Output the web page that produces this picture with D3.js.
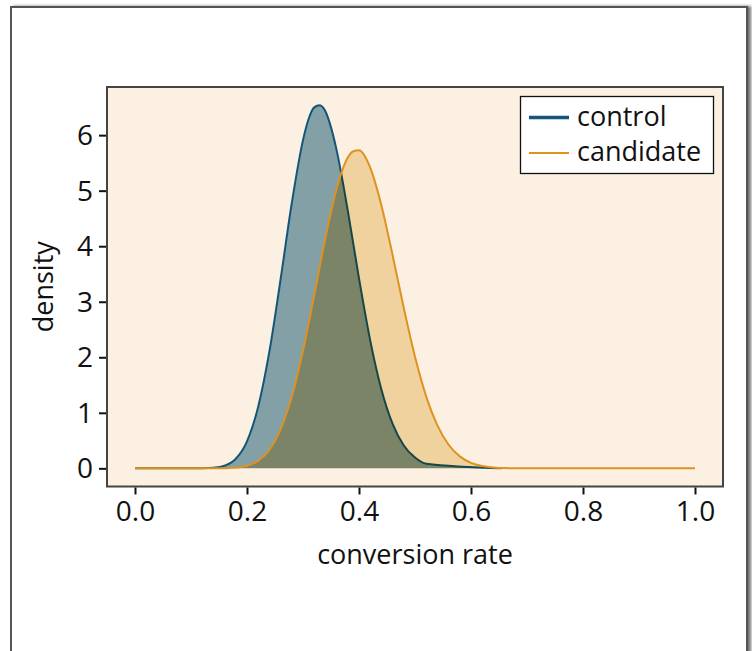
<!DOCTYPE html>
<html>
<head>
<meta charset="utf-8">
<script src="https://cdn.jsdelivr.net/npm/d3@7"></script>
<style>
  html, body { margin: 0; padding: 0; background: #ffffff; }
  svg { display: block; }
  text { font-family: "Open Sans", "Noto Sans", sans-serif; fill: #111; }
</style>
</head>
<body>
<div id="chart"></div>
<script>
// ---- data ----
const seriesNames = ["control", "candidate"];

const controlX = [0.00, 0.12, 0.14, 0.16, 0.18, 0.20, 0.22, 0.24, 0.26, 0.28, 0.30, 0.31, 0.32, 0.33, 0.34, 0.35, 0.36, 0.38, 0.40, 0.42, 0.44, 0.46, 0.48, 0.50, 0.52, 0.655];
const controlY = [0.00, 0.001, 0.009, 0.047, 0.172, 0.487, 1.110, 2.105, 3.405, 4.778, 5.91, 6.29, 6.50, 6.54, 6.43, 6.14, 5.73, 4.64, 3.42, 2.305, 1.419, 0.800, 0.412, 0.194, 0.083, 0.00];

const candidateX = [0.00, 0.14, 0.16, 0.18, 0.20, 0.22, 0.24, 0.26, 0.28, 0.30, 0.32, 0.34, 0.36, 0.38, 0.39, 0.40, 0.41, 0.42, 0.44, 0.46, 0.48, 0.50, 0.52, 0.54, 0.56, 0.58, 0.60, 0.62, 0.64, 0.66, 0.70, 1.00];
const candidateY = [0.00, 0.000, 0.003, 0.013, 0.046, 0.135, 0.331, 0.700, 1.292, 2.119, 3.114, 4.145, 5.033, 5.596, 5.71, 5.726, 5.63, 5.414, 4.735, 3.838, 2.886, 2.010, 1.296, 0.773, 0.425, 0.215, 0.099, 0.042, 0.016, 0.005, 0.000, 0.000];

const xTicks = [0.0, 0.2, 0.4, 0.6, 0.8, 1.0];
const yTicks = [0, 1, 2, 3, 4, 5, 6];
const xLabel = "conversion rate";
const yLabel = "density";

// ---- layout ----
const W = 752, H = 651;
const plot = { left: 107, top: 87, right: 723, bottom: 486.5 };

const svg = d3.select("#chart").append("svg")
  .attr("width", W).attr("height", H);

const defs = svg.append("defs");
const shadow = defs.append("filter").attr("id", "shadow")
  .attr("x", "-5%").attr("y", "-5%").attr("width", "115%").attr("height", "115%");
shadow.append("feDropShadow")
  .attr("dx", 3).attr("dy", 0).attr("stdDeviation", 1.8)
  .attr("flood-color", "#000").attr("flood-opacity", 0.55);

// outer frame
svg.append("rect")
  .attr("x", 11).attr("y", 7).attr("width", 736).attr("height", 700)
  .attr("fill", "#ffffff").attr("stroke", "#555555").attr("stroke-width", 2)
  .attr("filter", "url(#shadow)");

const controlData = controlX.map((x, i) => ({ x, y: controlY[i] }));
const candidateData = candidateX.map((x, i) => ({ x, y: candidateY[i] }));

const xPad = 0.05 * (1 - 0);
const yMax = d3.max(controlY.concat(candidateY));
const x = d3.scaleLinear().domain([0 - xPad, 1 + xPad]).range([plot.left, plot.right]);
const y = d3.scaleLinear().domain([-0.05 * yMax, 1.05 * yMax]).range([plot.bottom, plot.top]);

// plot background
svg.append("rect")
  .attr("x", plot.left).attr("y", plot.top)
  .attr("width", plot.right - plot.left).attr("height", plot.bottom - plot.top)
  .attr("fill", "#fbf0e2");

const g = svg.append("g").style("isolation", "isolate");

const area = d3.area().x(d => x(d.x)).y0(y(0)).y1(d => y(d.y)).curve(d3.curveMonotoneX);
const line = d3.line().x(d => x(d.x)).y(d => y(d.y)).curve(d3.curveMonotoneX);

const colors = { control: "#145677", candidate: "#df921f" };

g.append("path").datum(controlData).attr("d", area)
  .attr("fill", "#83a0a6");
g.append("path").datum(controlData).attr("d", line)
  .attr("fill", "none").attr("stroke", colors.control).attr("stroke-width", 2);

g.append("path").datum(candidateData).attr("d", area)
  .attr("fill", "#f0d29e").style("mix-blend-mode", "multiply");
g.append("path").datum(candidateData).attr("d", line)
  .attr("fill", "none").attr("stroke", colors.candidate).attr("stroke-width", 2);

// plot border
svg.append("rect")
  .attr("x", plot.left).attr("y", plot.top)
  .attr("width", plot.right - plot.left).attr("height", plot.bottom - plot.top)
  .attr("fill", "none").attr("stroke", "#444444").attr("stroke-width", 2);

// axes
const xAxis = d3.axisBottom(x).tickValues(xTicks).tickFormat(d3.format(".1f"))
  .tickSize(7).tickPadding(7);
const yAxis = d3.axisLeft(y).tickValues(yTicks).tickFormat(d3.format("d"))
  .tickSize(7).tickPadding(6);

const gx = svg.append("g").attr("transform", `translate(0,${plot.bottom + 1})`).call(xAxis);
const gy = svg.append("g").attr("transform", `translate(${plot.left - 1},0)`).call(yAxis);
[gx, gy].forEach(a => {
  a.select(".domain").remove();
  a.selectAll(".tick line").attr("stroke", "#111").attr("stroke-width", 2);
  a.selectAll(".tick text").attr("font-size", 28).attr("fill", "#111")
    .style("font-family", '"Open Sans", sans-serif');
});
gy.selectAll(".tick text").attr("dy", "0.34em");

svg.append("text")
  .attr("x", (plot.left + plot.right) / 2).attr("y", 564)
  .attr("text-anchor", "middle").attr("font-size", 27).text(xLabel);

svg.append("text")
  .attr("transform", `translate(53,${(plot.top + plot.bottom) / 2}) rotate(-90)`)
  .attr("text-anchor", "middle").attr("font-size", 27).text(yLabel);

// legend
const lg = svg.append("g");
lg.append("rect")
  .attr("x", 520.5).attr("y", 96.5).attr("width", 193).attr("height", 77)
  .attr("fill", "#ffffff").attr("stroke", "#111").attr("stroke-width", 1.3);
const legendRows = [
  { name: seriesNames[0], color: colors.control, width: 3.5, yy: 117.5 },
  { name: seriesNames[1], color: colors.candidate, width: 2.2, yy: 153 }
];
legendRows.forEach(r => {
  lg.append("line").attr("x1", 529).attr("x2", 569).attr("y1", r.yy).attr("y2", r.yy)
    .attr("stroke", r.color).attr("stroke-width", r.width);
  lg.append("text").attr("x", 577).attr("y", r.yy + 8).attr("font-size", 27).text(r.name);
});
</script>
</body>
</html>
